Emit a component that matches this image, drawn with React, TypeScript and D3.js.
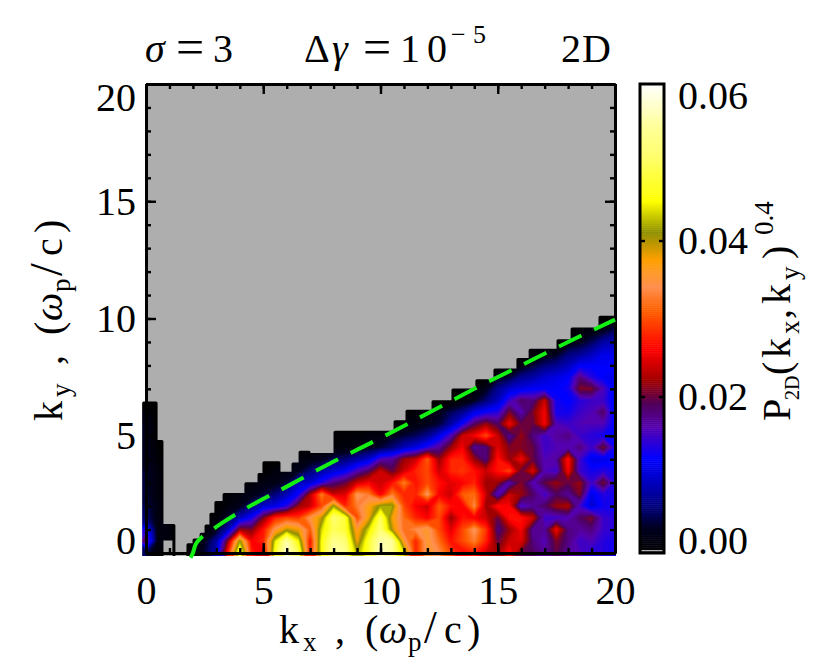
import React, { useEffect, useRef } from "react";
import * as d3 from "d3";

const FONT = "'Liberation Serif', serif";

// axis and colorbar labels
const majorTicks = [0, 5, 10, 15, 20];
const minorTicks = d3.range(0, 21);
const barTicks = [0, 0.02, 0.04, 0.06];
const barMinor = [0.02, 0.04];

// colour table (value in units of 0.001)
const colorStops = [0, 3, 6, 12, 16, 19, 22, 26, 31, 34, 37.5, 41, 45, 50, 55, 60];
const colorValues = [
  "#000000", "#00001e", "#00007f", "#0000ff", "#5500b0", "#50005a", "#a00000", "#ff0000",
  "#ff6000", "#ff9050", "#ffa000", "#909000", "#ffff00", "#ffff60", "#ffffa0", "#ffffff",
];

// green dashed curve
const ridgeKx = [1.9, 2, 2.1, 2.3, 2.7, 3.2, 4, 6, 8, 10, 12, 14, 16, 18, 20];
const ridgeKy = [-0.2, 0, 0.33, 0.6, 0.9, 1.25, 1.75, 2.83, 3.9, 4.9, 5.95, 7, 8, 9, 9.95];

// outline of the region that has data, a step at each kx
const maskKx = [-0.1, 0.43, 0.68, 1.19, 1.79, 2.05, 2.35, 2.56, 2.77, 2.98, 3.33, 4.26, 4.82, 5.03, 5.67, 6.27, 6.57, 6.95, 8.06, 10.62, 11.13, 12.24, 13.09, 14.11, 14.88, 15.86, 16.38, 17.57, 18.17, 19.36, 20.04];
const maskTop = [6.4, 4.75, 1.17, -0.2, 0.35, 0.55, 0.8, 1.15, 1.65, 2.15, 2.5, 2.95, 3.35, 3.85, 3.4, 3.8, 4.3, 4.2, 5.15, 5.6, 6.05, 6.45, 6.95, 7.35, 7.8, 8.25, 8.65, 9.05, 9.55, 10.05, 10.05];
const maskBase = [-0.2, -0.2, 0.6, -0.2, -0.2, -0.2, -0.2, -0.2, -0.2, -0.2, -0.2, -0.2, -0.2, -0.2, -0.2, -0.2, -0.2, -0.2, -0.2, -0.2, -0.2, -0.2, -0.2, -0.2, -0.2, -0.2, -0.2, -0.2, -0.2, -0.2, -0.2];

const gap = (n: number) => new Array(n).fill(0);

// P_2D in units of 0.001, kx = 0, 0.5 ... 20 across, one row per ky step of 0.5
const ky00 = [5, 1, 0, 0, 1, 4, 9, 28, 50, 28, 24, 47, 58, 50, 28, 46, 56, 54, 42, 48, 58, 54, 44, 28, 36, 34, 30, 26, 28, 24, 22, 27, 20, 19, 17, 20, 17, 16, 14, 14, 13];
const ky05 = [19, 2, 1, 0, 0, 3, 8, 22, 42, 26, 28, 44, 56, 45, 27, 46, 54, 52, 38, 48, 56, 55, 36, 28, 36, 32, 27, 30, 33, 28, 20, 24, 25, 18, 16, 21, 18, 15, 16, 14, 13];
const ky10 = [14, 2, 1.5, 0, 0, 1, 3, 9, 22, 21, 27, 35, 40, 38, 31, 44, 50, 48, 36, 44, 52, 40, 32, 34, 36, 30, 25, 30, 35, 29, 18, 22, 26, 17, 17, 26, 18, 17, 18, 15, 14];
const ky15 = [6, 2, 0, 0, 0, 0, 1, 4, 9, 13, 21, 28, 30, 29, 35, 40, 52, 48, 30, 38, 50, 38, 32, 28, 26, 30, 22, 27, 26, 24, 20, 27, 27, 24, 15, 15, 16, 19, 21, 15, 14];
const ky20 = [5, 2, 0, 0, 0, 0, 0, 1.5, 3, 6, 10, 11, 14, 22, 24, 30, 42, 28, 33, 37, 42, 42, 30, 26, 24, 31, 27, 26, 34, 22, 27, 26, 15, 17, 19, 22, 23, 15, 10, 13, 13];
const ky25 = [4, 1.5, 0, 0, 0, 0, 0, 1, 1.5, 2.5, 4, 6, 9, 13, 23, 33, 24, 25, 35, 33, 26, 33, 28, 28, 35, 26, 24, 31, 32, 24, 15, 24, 22, 19, 15, 19, 17, 21, 11, 14, 13];
const ky30 = [4, 1.5, 0, 0, 0, 0, 0, 0, 0, 1, 2, 2.5, 4, 9, 10, 14, 18, 20, 24, 26, 24, 27, 33, 27, 30, 27, 25, 26, 28, 22, 22, 16, 21, 16, 20, 22, 20, 22, 15, 21, 14];
const ky35 = [4, 1.5, ...gap(9), 1.5, 2, 3, 6, 8, 10, 12, 16, 19, 24, 20, 24, 28, 30, 24, 28, 29, 27, 24, 27, 30, 20, 25, 16, 15, 26, 15, 13, 14, 13];
const ky40 = [3, 1, ...gap(11), 1.5, 2, 3, 5, 6, 8, 10, 16, 17, 22, 24, 31, 22, 28, 28, 22, 18, 27, 22, 26, 20, 16, 17, 27, 15, 11, 11, 12];
const ky45 = [3, 0.6, ...gap(14), 1, 1.5, 2, 3, 4, 6, 9, 11, 14, 17, 22, 26, 17, 18, 25, 21, 21, 20, 15, 16, 16, 18, 15, 21, 13];
const ky50 = [3, ...gap(15), 0.8, 1, 1, 1.5, 2, 3, 4, 5, 7, 11, 16, 24, 26, 30, 24, 17, 22, 18, 15, 17, 18, 15, 14, 13, 12];
const ky55 = [3, ...gap(21), 1.5, 2, 3, 4, 8, 13, 19, 22, 19, 26, 20, 20, 26, 16, 15, 16, 16, 16, 12];
const ky60 = [2, ...gap(22), 1, 1.5, 3, 5, 7, 11, 13, 14, 21, 16, 21, 26, 13, 13, 15, 16, 19, 11];
const ky65 = [...gap(27), 1.5, 3, 6, 9, 15, 19, 18, 24, 13, 12, 14, 15, 15, 11];
const ky70 = [...gap(27), 1, 1, 3, 7, 10, 11, 12, 12, 12, 13, 21, 21, 16, 11];
const ky75 = [...gap(30), 3, 4, 7, 8, 10, 11, 12, 18, 14, 12, 11];
const ky80 = [...gap(32), 2, 4, 6, 7, 9, 12, 12, 12, 12];
const ky85 = [...gap(33), 1.5, 2, 3, 6, 7, 9, 11, 11];
const ky90 = [...gap(36), 2, 3, 5, 8, 9];
const ky95 = [...gap(37), 1, 2, 3, 5];
const ky100 = [...gap(40), 1];

const rows = [ky00, ky05, ky10, ky15, ky20, ky25, ky30, ky35, ky40, ky45, ky50, ky55, ky60, ky65, ky70, ky75, ky80, ky85, ky90, ky95, ky100];
const nx = 41;
const ny = rows.length;

const left = 146, right = 615, top = 84, bottom = 553;
const x = d3.scaleLinear().domain([0, 20]).range([left, right]);
const y = d3.scaleLinear().domain([0, 20]).range([bottom, top]);
const color = d3.scaleLinear<string>().domain(colorStops).range(colorValues).clamp(true);

const barLeft = 640, barRight = 664;
const barY = d3.scaleLinear().domain([0, 0.06]).range([bottom, 85]);

const App = () => {
  const axesRef = useRef<SVGGElement>(null);

  useEffect(() => {
    const g = d3.select(axesRef.current);
    g.selectAll("*").remove();

    const frame = (axis: any, tx: number, ty: number, labels: boolean) => {
      const a = g.append("g").attr("transform", "translate(" + tx + "," + ty + ")").call(axis);
      a.selectAll("path").attr("stroke", "#000").attr("stroke-width", 2.8);
      a.selectAll("line").attr("stroke", "#000").attr("stroke-width", 2.4);
      a.selectAll("text").attr("font-family", FONT).attr("font-size", 40).attr("fill", "#000");
      if (!labels) a.selectAll("text").remove();
      return a;
    };

    frame(d3.axisBottom(x).tickValues(minorTicks).tickSizeInner(-5).tickSizeOuter(0), 0, bottom, false);
    frame(d3.axisTop(x).tickValues(minorTicks).tickSizeInner(-5).tickSizeOuter(0), 0, top, false);
    frame(d3.axisLeft(y).tickValues(minorTicks).tickSizeInner(-5).tickSizeOuter(0), left, 0, false);
    frame(d3.axisRight(y).tickValues(minorTicks).tickSizeInner(-5).tickSizeOuter(0), right, 0, false);

    const xMajor = frame(d3.axisBottom(x).tickValues(majorTicks).tickSizeInner(-10).tickSizeOuter(0).tickPadding(23), 0, bottom, true);
    xMajor.selectAll("text").attr("dy", "0.71em");
    frame(d3.axisTop(x).tickValues(majorTicks).tickSizeInner(-10).tickSizeOuter(0), 0, top, false);
    const yMajor = frame(d3.axisLeft(y).tickValues(majorTicks).tickSizeInner(-10).tickSizeOuter(0).tickPadding(10), left, 0, true);
    // first and last labels sit inside the axis range
    yMajor.selectAll("text").attr("dy", (d: any) => (d === 0 ? "0.02em" : d === 20 ? "0.65em" : "0.32em"));
    frame(d3.axisRight(y).tickValues(majorTicks).tickSizeInner(-10).tickSizeOuter(0), right, 0, false);

    const bar = g.append("g").attr("transform", "translate(" + barRight + ",0)")
      .call(d3.axisRight(barY).tickValues(barTicks).tickSize(0).tickPadding(14).tickFormat(d3.format(".2f") as any));
    bar.select("path").remove();
    bar.selectAll("text").attr("font-family", FONT).attr("font-size", 40).attr("fill", "#000")
      .attr("dy", (d: any) => (d === 0 ? "0.02em" : d === 0.06 ? "0.58em" : "0.32em"));
  }, []);

  const contours = d3.contours().size([nx, ny]).thresholds(d3.range(0.5, 60, 0.5))(rows.flat());
  const transform = d3.geoTransform({
    point(px: number, py: number) {
      (this as any).stream.point(x((px - 0.5) * 0.5), y((py - 0.5) * 0.5));
    },
  });
  const path = d3.geoPath(transform);
  const ridge = d3.line<number>().x((d) => x(d)).y((_, i) => y(ridgeKy[i])).curve(d3.curveMonotoneX)(ridgeKx) as string;
  const maskPath = d3.area<number>().x((d) => x(d)).y0((_, i) => y(maskBase[i])).y1((_, i) => y(maskTop[i])).curve(d3.curveStepAfter)(maskKx) as string;

  const serif = { fontFamily: FONT, fontSize: 40, fill: "#000" };
  const sub = { fontSize: 27 };

  return (
    <svg width={830} height={670} style={{ position: "absolute", left: 0, top: 0 }}>
      <clipPath id="plot">
        <rect x={left - 4} y={top} width={right - left + 5} height={bottom + 3 - top} />
      </clipPath>
      <mask id="hasData" maskUnits="userSpaceOnUse" x={0} y={0} width={830} height={670}>
        <path d={maskPath} fill="#fff" stroke="#fff" strokeWidth={3} strokeLinejoin="round" />
      </mask>
      <rect x={left - 1} y={top} width={right - left + 2} height={bottom + 3 - top} fill="#aeaeae" />
      <g clipPath="url(#plot)">
        <g mask="url(#hasData)">
          <rect x={left - 6} y={top} width={right - left + 12} height={bottom + 6 - top} fill="#000" />
          {contours.map((c) => (
            <path key={c.value} d={path(c) as string} fill={color(c.value)} stroke="none" />
          ))}
        </g>
      </g>

      {d3.range(0, 0.06, 0.00025).map((v) => (
        <rect key={v} x={barLeft} width={barRight - barLeft} y={barY(v + 0.00025)} height={barY(v) - barY(v + 0.00025) + 0.5} fill={color(v * 1000)} />
      ))}
      <rect x={barLeft + 1} y={bottom - 3} width={barRight - barLeft - 2} height={1.5} fill="#aeaeae" />
      <rect x={barLeft} y={top} width={barRight - barLeft} height={bottom - top} fill="none" stroke="#000" strokeWidth={3} />
      {barMinor.map((v) => (
        <g key={v} stroke="#000" strokeWidth={2.4}>
          <line x1={barLeft} x2={barLeft + 5} y1={barY(v)} y2={barY(v)} />
          <line x1={barRight - 5} x2={barRight} y1={barY(v)} y2={barY(v)} />
        </g>
      ))}

      <g ref={axesRef} />
      <path d={ridge} fill="none" stroke="#14f014" strokeWidth={4} strokeDasharray="25 14" />

      <text {...serif} x={145} y={62} fontStyle="italic">σ</text>
      <text {...serif} x={176} y={64} fontSize={50}>=</text>
      <text {...serif} x={213} y={62}>3</text>
      <text {...serif} x={304} y={62}>Δ</text>
      <text {...serif} x={332} y={62} fontStyle="italic">γ</text>
      <text {...serif} x={363} y={64} fontSize={50}>=</text>
      <text {...serif} x={400} y={62}>1</text>
      <text {...serif} x={427} y={62}>0</text>
      <text {...serif} x={451} y={43} fontSize={26}>−</text>
      <text {...serif} x={473} y={43} fontSize={26}>5</text>
      <text {...serif} x={561} y={62} letterSpacing={1}>2D</text>

      <text {...serif} x={279} y={643}>k</text>
      <text {...serif} {...sub} x={303} y={651}>x</text>
      <text {...serif} x={335} y={643}>,</text>
      <text {...serif} x={365} y={643}>(</text>
      <text {...serif} x={379} y={643} fontStyle="italic">ω</text>
      <text {...serif} {...sub} x={408} y={651}>p</text>
      <text {...serif} x={424} y={643} fontSize={46}>/</text>
      <text {...serif} x={444} y={643}>c</text>
      <text {...serif} x={467} y={643}>)</text>

      <g transform="translate(62,421) rotate(-90)">
        <text {...serif} x={0} y={0}>k</text>
        <text {...serif} {...sub} x={24} y={8}>y</text>
        <text {...serif} x={56} y={0}>,</text>
        <text {...serif} x={86} y={0}>(</text>
        <text {...serif} x={100} y={0} fontStyle="italic">ω</text>
        <text {...serif} {...sub} x={129} y={8}>p</text>
        <text {...serif} x={145} y={0} fontSize={46}>/</text>
        <text {...serif} x={165} y={0}>c</text>
        <text {...serif} x={188} y={0}>)</text>
      </g>

      <g transform="translate(790,421) rotate(-90)">
        <text {...serif} x={0} y={0}>P</text>
        <text {...serif} x={21} y={9} fontSize={20}>2D</text>
        <text {...serif} x={46} y={0}>(</text>
        <text {...serif} x={63} y={0}>k</text>
        <text {...serif} {...sub} x={87} y={9}>x</text>
        <text {...serif} x={102} y={0}>,</text>
        <text {...serif} x={117} y={0}>k</text>
        <text {...serif} {...sub} x={141} y={9}>y</text>
        <text {...serif} x={162} y={0}>)</text>
        <text {...serif} x={186} y={-17} fontSize={27}>0.4</text>
      </g>
    </svg>
  );
};

export default App;
